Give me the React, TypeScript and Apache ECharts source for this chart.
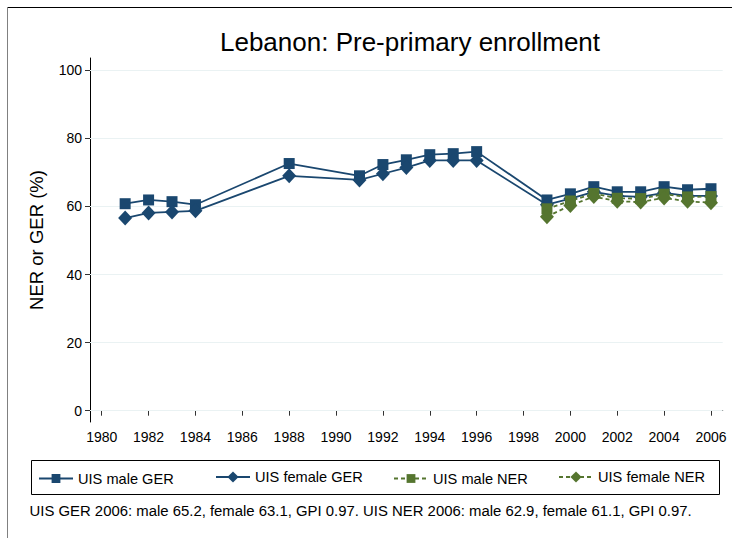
import React, { useEffect, useRef } from "react";
import * as echarts from "echarts";

const years = [1981, 1982, 1983, 1984, 1988, 1991, 1992, 1993, 1994, 1995, 1996, 1999, 2000, 2001, 2002, 2003, 2004, 2005, 2006];
const maleGER = [60.8, 61.9, 61.4, 60.5, 72.6, 69.0, 72.3, 73.7, 75.2, 75.5, 76.1, 61.9, 63.7, 65.8, 64.3, 64.3, 65.8, 64.9, 65.2];
const femaleGER = [56.6, 58.1, 58.4, 58.7, 69.0, 67.8, 69.6, 71.4, 73.5, 73.5, 73.5, 60.5, 62.3, 64.3, 63.1, 62.8, 64.0, 63.1, 63.1];
const nerYears = [1999, 2000, 2001, 2002, 2003, 2004, 2005, 2006];
const maleNER = [59.3, 61.6, 63.8, 62.4, 62.3, 63.6, 62.8, 62.9];
const femaleNER = [57.0, 60.3, 62.9, 61.5, 61.3, 62.5, 61.5, 61.1];
const xTicks = [1980, 1982, 1984, 1986, 1988, 1990, 1992, 1994, 1996, 1998, 2000, 2002, 2004, 2006];
const yTicks = [0, 20, 40, 60, 80, 100];
const seriesNames = ["UIS male GER", "UIS female GER", "UIS male NER", "UIS female NER"];
const noteText = "UIS GER 2006: male 65.2, female 63.1, GPI 0.97. UIS NER 2006: male 62.9, female 61.1, GPI 0.97.";

const NAVY = "#1a476f";
const GREEN = "#55752f";
const FONT = "Liberation Sans, Arial, sans-serif";

export default function App() {
  const ref = useRef<HTMLDivElement>(null);
  useEffect(() => {
    if (!ref.current) return;
    const chart = echarts.init(ref.current, undefined, { renderer: "svg" });
    const pair = (xs: number[], ys: number[]) => xs.map((x, i) => [x, ys[i]]);
    const legendLefts = [38, 215, 393, 558];
    const legendHeights = [11, 14, 11, 14];
    chart.setOption({
      animation: false,
      backgroundColor: "#ffffff",
      textStyle: { fontFamily: FONT },
      title: {
        text: "Lebanon: Pre-primary enrollment",
        left: 405,
        textAlign: "center",
        top: 24,
        textStyle: { fontFamily: FONT, fontSize: 26, fontWeight: "normal", color: "#000" },
      },
      grid: { left: 90, right: 9.3, top: 58, bottom: 116 },
      xAxis: {
        type: "value",
        min: 1979.5,
        max: 2006.5,
        axisLine: { show: true, lineStyle: { color: "#000", width: 1 } },
        axisTick: { show: true, customValues: xTicks, length: 5, lineStyle: { color: "#333" } },
        axisLabel: {
          customValues: xTicks,
          formatter: (v: number) => String(v),
          color: "#000",
          fontSize: 14,
          fontFamily: FONT,
          margin: 8,
        },
        splitLine: { show: false },
      },
      yAxis: {
        type: "value",
        min: -3.32,
        max: 103.6,
        name: "NER or GER (%)",
        nameLocation: "middle",
        nameGap: 44,
        nameTextStyle: { fontSize: 18.5, color: "#000", fontFamily: FONT },
        axisLine: { show: true, lineStyle: { color: "#000", width: 1 } },
        axisTick: { show: true, customValues: yTicks, length: 5, lineStyle: { color: "#333" } },
        axisLabel: { customValues: yTicks, color: "#000", fontSize: 14, fontFamily: FONT, margin: 8 },
        splitLine: { show: false },
      },
      legend: seriesNames.map((n, i) => ({
        data: [n],
        left: legendLefts[i],
        top: 476.5 - legendHeights[i] / 2,
        padding: 0,
        itemWidth: 34,
        itemHeight: legendHeights[i],
        itemGap: 6,
        textStyle: { fontSize: 14.6, color: "#000", fontFamily: FONT },
        selectedMode: false,
      })),
      graphic: [
        {
          type: "line",
          shape: { x1: 7, y1: 7.5, x2: 732, y2: 7.5 },
          style: { stroke: "#000", lineWidth: 1.2 },
          silent: true,
        },
        {
          type: "line",
          shape: { x1: 7.5, y1: 7, x2: 7.5, y2: 538 },
          style: { stroke: "#808080", lineWidth: 1 },
          silent: true,
        },
        {
          type: "rect",
          shape: { x: 31.5, y: 460.5, width: 688, height: 34 },
          style: { fill: "none", stroke: "#000", lineWidth: 1 },
          silent: true,
        },
        {
          type: "text",
          x: 29.5,
          y: 511,
          style: { text: noteText, fontSize: 14.9, fontFamily: FONT, fill: "#000", verticalAlign: "middle" },
          silent: true,
        },
      ],
      series: [
        {
          name: seriesNames[0],
          type: "line",
          data: pair(years, maleGER),
          symbol: "rect",
          symbolSize: 11,
          itemStyle: { color: NAVY },
          lineStyle: { color: NAVY, width: 1.8 },
          z: 3,
          markLine: {
            silent: true,
            symbol: "none",
            label: { show: false },
            lineStyle: { color: "#eaf2f3", width: 1, type: "solid" },
            data: yTicks.map((v) => ({ yAxis: v })),
            z: 1,
          },
        },
        {
          name: seriesNames[1],
          type: "line",
          data: pair(years, femaleGER),
          symbol: "diamond",
          symbolSize: [14, 15],
          itemStyle: { color: NAVY },
          lineStyle: { color: NAVY, width: 1.8 },
          z: 3,
        },
        {
          name: seriesNames[2],
          type: "line",
          data: pair(nerYears, maleNER),
          symbol: "rect",
          symbolSize: 11,
          itemStyle: { color: GREEN },
          lineStyle: { color: GREEN, width: 1.8, type: [4, 3] },
          z: 4,
        },
        {
          name: seriesNames[3],
          type: "line",
          data: pair(nerYears, femaleNER),
          symbol: "diamond",
          symbolSize: [14, 15],
          itemStyle: { color: GREEN },
          lineStyle: { color: GREEN, width: 1.8, type: [4, 3] },
          z: 4,
        },
      ],
    });
    return () => chart.dispose();
  }, []);
  return <div ref={ref} style={{ position: "fixed", left: 0, top: 0, width: 732, height: 538 }} />;
}
